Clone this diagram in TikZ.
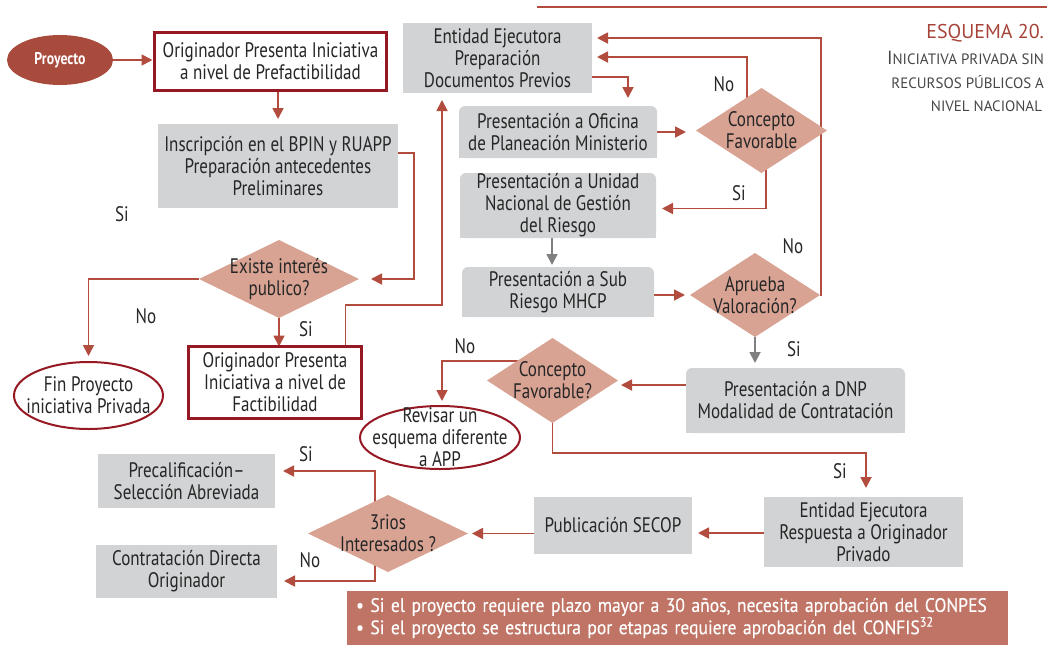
\documentclass[tikz,border=0pt]{standalone}
\usepackage{fontspec}
\setmainfont{PT Sans}[FakeStretch=0.81]
\newfontfamily\headfont{PT Sans}
\newfontfamily\notefont{PT Sans}[FakeStretch=0.9,FakeBold=0.3]
\usetikzlibrary{shapes.geometric,arrows.meta,calc,backgrounds}

\definecolor{arrowred}{RGB}{178,76,62}
\definecolor{frame}{RGB}{150,24,34}
\definecolor{boxgray}{RGB}{209,211,212}
\definecolor{decision}{RGB}{217,163,148}
\definecolor{startfill}{RGB}{168,74,60}
\definecolor{notefill}{RGB}{192,116,101}
\definecolor{ink}{RGB}{38,38,38}
\definecolor{titlered}{RGB}{166,68,57}
\definecolor{subgray}{RGB}{70,70,70}

\newcommand\capA[1]{{\fontsize{19}{23}\selectfont #1}}
\newcommand\capB[1]{{\fontsize{15}{23}\selectfont #1}}

\tikzset{
  base/.style={inner sep=0pt, outer sep=0pt, align=center, text=ink,
    font=\fontsize{21}{22}\selectfont},
  graybox/.style={base, rectangle, fill=boxgray},
  roundbox/.style={graybox, rounded corners=6pt},
  framebox/.style={base, rectangle, draw=frame, line width=2.6pt, fill=white},
  decisionshape/.style={base, diamond, fill=decision},
  endshape/.style={base, ellipse, draw=frame, line width=2pt, fill=white},
  lab/.style={base},
  tag/.style={base},
  flow/.style={draw=arrowred, line width=1.8pt, -{Triangle[length=11pt,width=11pt]}},
  grayflow/.style={draw=gray, line width=1.8pt, -{Triangle[length=11pt,width=11pt]}},
}

\begin{document}
\begin{tikzpicture}[x=1pt,y=-1pt]
\useasboundingbox (0,0) rectangle (1047,646);

% heading
\draw[arrowred, line width=2pt] (537,7) -- (1047,7);
\node[base, anchor=base east, text=titlered, font=\headfont\fontsize{20}{22}\selectfont]
  (title) at (1044,38) {ESQUEMA 20.};
\node[base, anchor=base east, text=subgray, font=\headfont] (sub1) at (1044,64)
  {\capA{I}\capB{NICIATIVA PRIVADA SIN}};
\node[base, anchor=base east, text=subgray, font=\headfont] (sub2) at (1044,88)
  {\capB{RECURSOS PÚBLICOS A}};
\node[base, anchor=base east, text=subgray, font=\headfont] (sub3) at (1042,111)
  {\capB{NIVEL NACIONAL}};

% left column
\node[base, ellipse, fill=startfill, text=white, minimum width=106pt, minimum height=50pt,
  font=\fontsize{17}{18}\selectfont\bfseries] (proy) at (60,60) {Proyecto};
\node[framebox, minimum width=232pt, minimum height=58pt] (ori1) at (270.5,61.5)
  {Originador Presenta Iniciativa\\a nivel de Prefactibilidad};
\node[graybox, minimum width=240pt, minimum height=84pt] (insc) at (278,166)
  {Inscripción en el BPIN y RUAPP\\Preparación antecedentes\\Preliminares};
\node[decisionshape, minimum width=160pt, minimum height=78pt,
  label={[lab]center:{Existe interés\\publico?}}] (exist) at (279,279) {};
\node[endshape, minimum width=149pt, minimum height=67pt,
  label={[lab]center:{Fin Proyecto\\iniciativa Privada}}] (fin) at (88.5,395.5) {};
\node[framebox, minimum width=173pt, minimum height=72pt] (ori2) at (275,382.5)
  {Originador Presenta\\Iniciativa a nivel de\\Factibilidad};

% middle column
\node[graybox, minimum width=189pt, minimum height=70pt] (ent1) at (497.5,58)
  {Entidad Ejecutora\\Preparación\\Documentos Previos};
\node[roundbox, minimum width=198pt, minimum height=52pt] (ofi) at (558,132)
  {Presentación a Oficina\\de Planeación Ministerio};
\node[roundbox, minimum width=196pt, minimum height=65pt] (uni) at (558,205.5)
  {Presentación a Unidad\\Nacional de Gestión\\del Riesgo};
\node[roundbox, minimum width=192pt, minimum height=50pt] (sub) at (558,292)
  {Presentación a Sub\\Riesgo MHCP};
\node[decisionshape, minimum width=131pt, minimum height=85pt,
  label={[lab]center:{Concepto\\Favorable}}] (cf1) at (761.5,130.5) {};
\node[decisionshape, minimum width=130pt, minimum height=84pt,
  label={[lab]center:{Aprueba\\Valoración?}}] (apr) at (755,295) {};
\node[roundbox, minimum width=219pt, minimum height=65pt] (dnp) at (795.5,400.5)
  {Presentación a DNP\\Modalidad de Contratación};
\node[decisionshape, minimum width=131pt, minimum height=85pt,
  label={[lab]center:{Concepto\\Favorable?}}] (cf2) at (552.5,380.5) {};
\node[endshape, minimum width=160pt, minimum height=63pt,
  label={[lab]center:{Revisar un\\esquema diferente\\a APP}}] (rev) at (440,437.5) {};

% bottom row
\node[graybox, minimum width=199pt, minimum height=70pt] (resp) at (863.5,532)
  {Entidad Ejecutora\\Respuesta a Originador\\Privado};
\node[graybox, minimum width=158pt, minimum height=57pt] (secop) at (613,525.5)
  {Publicación SECOP};
\node[decisionshape, minimum width=160pt, minimum height=77pt,
  label={[lab]center:{3rios\\Interesados ?}}] (d3) at (388,533.5) {};
\node[graybox, minimum width=177pt, minimum height=54pt] (precal) at (186.5,481)
  {Precalificación–\\Selección Abreviada};
\node[graybox, minimum width=181pt, minimum height=53pt] (contr) at (186.5,571.5)
  {Contratación Directa\\Originador};

% note banner
\node[base, anchor=north west, fill=notefill, text=white, align=left,
  minimum width=661pt, minimum height=54pt, text width=643pt, inner xsep=9pt,
  font=\notefont\fontsize{19.5}{20}\selectfont] (note) at (347,591)
  {• Si el proyecto requiere plazo mayor a 30 años, necesita aprobación del CONPES\\
   • Si el proyecto se estructura por etapas requiere aprobación del CONFIS\textsuperscript{32}};

% branch labels
\node[tag] (tSi0) at (122,214) {Si};
\node[tag] (tNo1) at (146,316) {No};
\node[tag] (tSi1) at (306,329) {Si};
\node[tag] (tNo2) at (724,84) {No};
\node[tag] (tSi2) at (739,193) {Si};
\node[tag] (tNo3) at (793,246) {No};
\node[tag] (tSi3) at (794,349) {Si};
\node[tag] (tNo4) at (465,346) {No};
\node[tag] (tSi4) at (840,471) {Si};
\node[tag] (tSi5) at (306,454) {Si};
\node[tag] (tNo5) at (310,560) {No};

\coordinate (b1) at (442,305);
\coordinate (b2) at (866,453);

\begin{scope}[on background layer]
  % square lower corners of the top-rounded boxes
  \foreach \n in {ofi,uni,sub,dnp} \fill[boxgray] (\n.west) rectangle (\n.south east);

  \draw[flow, shorten >=2pt] (proy.east) -- (proy.east -| ori1.west);
  \draw[flow, shorten >=5pt] (insc.north |- ori1.south) -- (insc.north);
  \draw[flow, shorten >=12pt] ($(insc.east)+(0,-13)$) -- ++(16,0) |- (exist.east);
  \draw[flow, shorten >=6pt] (exist.west) -| (fin.north);
  \draw[flow] (exist.south) -- (exist.south |- ori2.north);
  \draw[flow, shorten >=7pt] ($(ori2.north east)+(-16,0)$) |- (b1) -- (b1 |- ent1.south);
  \draw[flow, shorten >=8pt] ($(ent1.east)+(0,19)$) -| ($(ofi.north east)+(-29,0)$);
  \draw[flow, shorten >=10pt] (ofi.east) -- (ofi.east -| cf1.west);
  \draw[flow, shorten >=5pt] ($(cf1.center)+(-14.5,0)$) |- ($(ent1.east)+(0,-1)$);
  \draw[flow, shorten >=6pt] ($(cf1.center)+(4.5,0)$) |- ($(uni.east)+(0,3)$);
  \draw[grayflow, shorten >=2pt] ($(uni.south)+(-6,0)$) -- ($(sub.north)+(-6,0)$);
  \draw[flow, shorten >=5pt] (sub.east |- apr.west) -- (apr.west);
  \draw[flow, shorten >=5pt] (apr.east) -- ++(1,0) |- ($(ent1.east)+(0,-20)$);
  \draw[grayflow, shorten >=5pt] (apr.south) -- (apr.south |- dnp.north);
  \draw[flow] ($(dnp.west)+(0,-15.5)$) -- ($(cf2.east)+(3,4.5)$);
  \draw[flow, shorten >=5pt] ($(cf2.center)+(0,-19.5)$) -| ($(rev.north)+(2,0)$);
  \draw[flow, shorten >=9pt] (cf2.center) |- (b2) -- (b2 |- resp.north);
  \draw[flow, shorten >=6pt] ($(resp.west)+(0,1)$) -- ($(resp.west -| secop.east)+(0,1)$);
  \draw[flow, shorten >=4pt] (secop.west |- d3.east) -- (d3.east);
  \draw[flow, shorten >=8pt] ($(d3.center)+(-13,0)$) |- ($(precal.east)+(0,-10)$);
  \draw[flow, shorten >=7pt] ($(d3.center)+(-13,0)$) |- ($(contr.east)+(0,9.5)$);
\end{scope}
\end{tikzpicture}
\end{document}
